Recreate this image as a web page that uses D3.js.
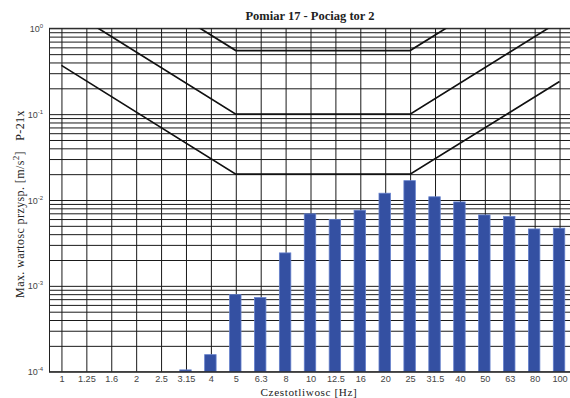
<!DOCTYPE html>
<html>
<head>
<meta charset="utf-8">
<script src="https://cdn.jsdelivr.net/npm/d3@7"></script>
<style>
  body { margin: 0; background: white; }
  svg { display: block; }
</style>
</head>
<body>
<script>
// data
const categories = ["1", "1.25", "1.6", "2", "2.5", "3.15", "4", "5", "6.3", "8", "10",
  "12.5", "16", "20", "25", "31.5", "40", "50", "63", "80", "100"]
const values = [1.0e-4, 1.0e-4, 1.0e-4, 1.0e-4, 1.0e-4, 1.05e-4, 1.58e-4, 7.9e-4, 7.3e-4, 2.42e-3,
  6.9e-3, 5.95e-3, 7.6e-3, 1.2e-2, 1.68e-2, 1.09e-2, 9.5e-3, 6.7e-3, 6.45e-3, 4.6e-3, 4.7e-3]
const limitLow = [["1", 0.37], ["5", 0.02], ["25", 0.02], ["100", 0.24]]
const limitMid = [["1", 1.85], ["5", 0.1], ["25", 0.1], ["100", 1.21]]
const limitHigh = [["1", 10.2], ["5", 0.55], ["25", 0.55], ["100", 6.66]]
const yTicks = [1e-4, 1e-3, 1e-2, 1e-1, 1]
const yExp = ["-4", "-3", "-2", "-1", "0"]

const w = 570
const h = 398
const pL = 49, pR = 572, pT = 28.3, pB = 371.7

const x = d3.scalePoint()
            .domain(categories)
            .range([pL, pR])
            .padding(0.5)
const y = d3.scaleLog()
            .domain([1e-4, 1])
            .range([pB, pT])

const svg = d3.select("body")
              .append("svg")
              .attr("width", w)
              .attr("height", h)
              .style("background-color", "white")

svg.append("defs").append("clipPath")
   .attr("id", "plot")
   .append("rect")
   .attr("x", pL)
   .attr("y", pT)
   .attr("width", pR - pL)
   .attr("height", pB - pT)

// log grid: 1..9 per decade
const minor = []
for (let e = -4; e < 0; e++) {
  for (let m = 1; m < 10; m++) minor.push(m * Math.pow(10, e))
}
minor.push(1)

svg.append("g")
   .attr("class", "ygrid")
   .attr("transform", "translate(" + pL + ",0)")
   .call(d3.axisLeft(y).tickValues(minor).tickSize(-(pR - pL)).tickFormat(""))
   .call(g => g.select(".domain").remove())
   .selectAll("line")
   .attr("stroke", "#1a1a1a")

svg.append("g")
   .attr("class", "xgrid")
   .attr("transform", "translate(0," + pB + ")")
   .call(d3.axisBottom(x).tickSize(-(pB - pT)).tickFormat(""))
   .call(g => g.select(".domain").remove())
   .selectAll("line")
   .attr("stroke", "#1a1a1a")

// bars
const bw = x.step() * 0.46
svg.selectAll("rect.bar")
   .data(values)
   .enter()
   .append("rect")
   .attr("class", "bar")
   .attr("fill", "#3450a2")
   .attr("stroke", "#6580cc")
   .attr("stroke-width", 0.8)
   .attr("x", (d, i) => x(categories[i]) - bw / 2 - 0.5)
   .attr("y", d => y(d))
   .attr("width", bw)
   .attr("height", d => pB - y(d))

// limit curves
const line = d3.line()
               .x(d => x(d[0]))
               .y(d => y(d[1]))
svg.append("g")
   .attr("clip-path", "url(#plot)")
   .selectAll("path")
   .data([limitLow, limitMid, limitHigh])
   .enter()
   .append("path")
   .attr("d", line)
   .attr("fill", "none")
   .attr("stroke", "#111")
   .attr("stroke-width", 1.7)

// frame
svg.append("rect")
   .attr("x", pL + 0.5)
   .attr("y", pT)
   .attr("width", pR - pL)
   .attr("height", pB - pT)
   .attr("fill", "none")
   .attr("stroke", "#222")

// y tick labels as 10^n
const yl = svg.append("g")
              .selectAll("text")
              .data(yTicks)
              .enter()
              .append("text")
              .attr("x", 43)
              .attr("y", d => y(d) + 3.5)
              .attr("text-anchor", "end")
              .attr("font-family", "Liberation Sans, Arial, sans-serif")
              .attr("font-size", 9)
              .attr("fill", "#444")
yl.append("tspan").text("10")
yl.append("tspan")
  .attr("dy", -4)
  .attr("font-size", 6)
  .text((d, i) => yExp[i])

// x tick labels
svg.append("g")
   .attr("transform", "translate(0," + pB + ")")
   .call(d3.axisBottom(x).tickSize(0).tickPadding(3.5))
   .call(g => g.select(".domain").remove())
   .selectAll("text")
   .attr("font-family", "Liberation Sans, Arial, sans-serif")
   .attr("font-size", 9.2)
   .attr("fill", "#444")

svg.append("text")
   .attr("x", 310)
   .attr("y", 19.5)
   .attr("text-anchor", "middle")
   .attr("font-family", "Liberation Serif, Times New Roman, serif")
   .attr("font-weight", "bold")
   .attr("font-size", 12.5)
   .attr("fill", "#222")
   .text("Pomiar 17 - Pociag tor 2")

svg.append("text")
   .attr("x", 309)
   .attr("y", 395.5)
   .attr("text-anchor", "middle")
   .attr("font-family", "Liberation Serif, Times New Roman, serif")
   .attr("font-size", 11.2)
   .attr("letter-spacing", 0.6)
   .attr("fill", "#222")
   .text("Czestotliwosc [Hz]")

const ylab = svg.append("text")
   .attr("transform", "translate(24,204) rotate(-90)")
   .attr("text-anchor", "middle")
   .attr("font-family", "Liberation Serif, Times New Roman, serif")
   .attr("font-size", 12)
   .attr("letter-spacing", 0.4)
   .attr("fill", "#222")
ylab.append("tspan").text("Max. wartosc przysp. [m/s")
ylab.append("tspan").attr("dy", -5).attr("font-size", 9).text("2")
ylab.append("tspan").attr("dy", 5).text("]\u00a0\u00a0 P-21x")
</script>
</body>
</html>
